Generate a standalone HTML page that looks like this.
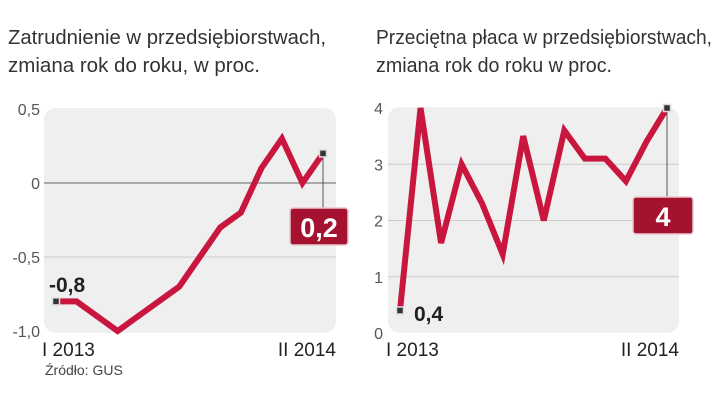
<!DOCTYPE html>
<html><head><meta charset="utf-8"><style>
body{margin:0;background:#fff;width:720px;height:405px;overflow:hidden;font-family:"Liberation Sans",sans-serif}
svg text{font-family:"Liberation Sans",sans-serif}
</style></head><body>
<svg width="720" height="405">
<g id="left"></g>
<g id="right"></g>
</svg>
<script>
const empValues=[-0.8,-0.8,-0.9,-1.0,-0.9,-0.8,-0.7,-0.5,-0.3,-0.2,0.1,0.3,0.0,0.2];
const empTicks=[0.5,0,-0.5,-1.0];
const empTickLabels=["0,5","0","-0,5","-1,0"];
const wageValues=[0.4,4.0,1.6,3.0,2.3,1.4,3.5,2.0,3.6,3.1,3.1,2.7,3.4,4.0];
const wageTicks=[4,3,2,1,0];
const wageTickLabels=["4","3","2","1","0"];
const xLabels=["I 2013","II 2014"];
const NS="http://www.w3.org/2000/svg";
function mk(p,t,a,txt){const e=document.createElementNS(NS,t);for(const k in a)e.setAttribute(k,a[k]);if(txt!==undefined)e.textContent=txt;p.appendChild(e);return e;}
function draw(g,o){
  const y=v=>o.y0+(v-o.vmin)/(o.vmax-o.vmin)*(o.y1-o.y0);
  const x=i=>o.x0+i*(o.x1-o.x0)/(o.vals.length-1);
  let t=mk(g,'text',{x:o.tx,y:44,'font-size':20,fill:'#333',textLength:o.tl1,lengthAdjust:'spacingAndGlyphs'},o.title1);
  
  
  t=mk(g,'text',{x:o.tx,y:72,'font-size':20,fill:'#333',textLength:o.tl2,lengthAdjust:'spacingAndGlyphs'},o.title2);
  
  
  let r=mk(g,'rect',{x:o.px0,y:o.py0,width:o.px1-o.px0,height:o.py1-o.py0,rx:12,fill:'#efefef'});
  
  
  o.ticks.forEach((v,i)=>{
    if(v!==o.vmin&&v!==o.vmax){
      const l=mk(g,'line',{x1:o.px0,x2:o.px1,y1:y(v),y2:y(v),stroke:v===0?'#666':'#ccc','stroke-width':1});
      
      
    }
    const tl=mk(g,'text',{x:o.lx,y:y(v)+6,'font-size':16,fill:'#555','text-anchor':'end'},o.tickLabels[i]);
    
    
  });
  const pts=o.vals.map((v,i)=>x(i)+','+y(v)).join(' ');
  const pl=mk(g,'polyline',{points:pts,fill:'none',stroke:'#c8163f','stroke-width':6,'stroke-linejoin':'miter'});
  
  
  const n=o.vals.length-1;
  const lx=x(n),ly=y(o.vals[n]);
  const cl=mk(g,'line',{x1:lx,x2:lx,y1:ly,y2:o.by,stroke:'#555','stroke-width':1});
  
  
  [[x(0),y(o.vals[0])],[lx,ly]].forEach(([a,b])=>{
    const m=mk(g,'rect',{x:a-3.5,y:b-3.5,width:7,height:7,fill:'#333',stroke:'#ddd','stroke-width':1.5});
    
    
  });
  const bx=mk(g,'rect',{x:o.bx,y:o.by,width:o.bw,height:37,rx:3,fill:'#a5122f',stroke:'#e8c8cf','stroke-width':1.5});
  
  
  const fmt=v=>String(v).replace('.',',').replace(/,0$/,'');
  const bt=mk(g,'text',{x:o.bx+o.bw/2,y:o.by+29,'font-size':27,'font-weight':'bold',fill:'#fff','text-anchor':'middle'},fmt(o.vals[n]));
  
  
  const ft=mk(g,'text',{x:o.fx,y:o.fy,'font-size':21,'font-weight':'bold',fill:'#222'},fmt(o.vals[0]));
  
  
  xLabels.forEach((s,i)=>{
    const xt=mk(g,'text',{x:i?o.px1:o.px0-2,y:356,'font-size':19,fill:'#222','text-anchor':i?'end':'start'},s);
    
    
  });
}
draw(document.getElementById('left'),{vals:empValues,ticks:empTicks,tickLabels:empTickLabels,vmin:-1,vmax:0.5,y0:331,y1:109,x0:56,x1:323,
 px0:44,px1:336,py0:108,py1:333,lx:40,tx:8,title1:"Zatrudnienie w przedsiębiorstwach,",title2:"zmiana rok do roku, w proc.",tl1:318,tl2:252,
 bx:290,by:208,bw:58,fx:49,fy:292});
draw(document.getElementById('right'),{vals:wageValues,ticks:wageTicks,tickLabels:wageTickLabels,vmin:0,vmax:4,y0:333,y1:108,x0:400,x1:667,
 px0:388,px1:679,py0:107,py1:333,lx:383,tx:376,title1:"Przeciętna płaca w przedsiębiorstwach,",title2:"zmiana rok do roku w proc.",tl1:336,tl2:236,
 bx:633,by:197,bw:60,fx:414,fy:321});
const src=document.createElementNS(NS,'text');
src.setAttribute('x',45);src.setAttribute('y',375);src.setAttribute('font-size',14);src.setAttribute('fill','#444');
src.textContent='Źródło: GUS';


document.querySelector('svg').appendChild(src);
</script>
</body></html>
